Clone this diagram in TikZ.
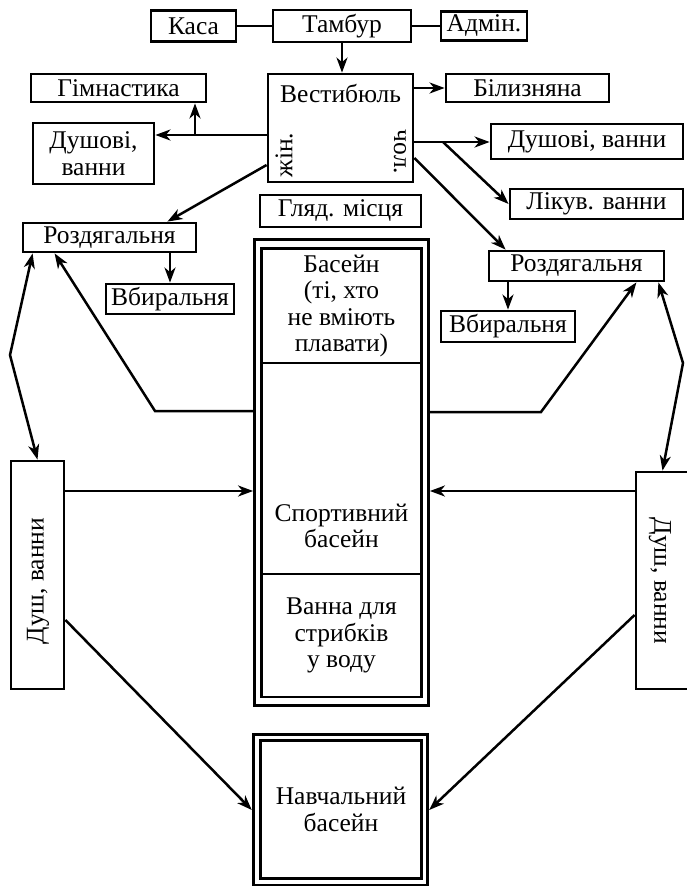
\documentclass[tikz,border=0pt]{standalone}
\usepackage{fontspec}
\setmainfont{Liberation Serif}
\usetikzlibrary{arrows.meta}

\begin{document}
\begin{tikzpicture}[
   x=1pt, y=-1pt,
   room/.style={draw, line width=2.8pt, inner sep=0pt, align=center,
      font=\fontsize{25.5}{26.5}\selectfont},
   txt/.style={inner sep=0pt, align=center, font=\fontsize{25.5}{26.5}\selectfont},
   link/.style={line width=2.5pt},
   arrow/.style={-{Stealth[length=15pt, width=11pt, inset=4.5pt]}, line width=2.5pt},
   dblarrow/.style={{Stealth[length=15pt, width=11pt, inset=4.5pt]}-{Stealth[length=15pt, width=11pt, inset=4.5pt]},
      line width=2.5pt}
]
\useasboundingbox (0,0) rectangle (686,886);

\node[room, minimum width=85, minimum height=31] (kasa) at (193.5,26) {Каса};
\node[room, minimum width=138, minimum height=32] (tambur) at (342,26) {Тамбур};
\node[room, minimum width=86, minimum height=29] (admin) at (484,26) {Адмін.};
\node[room, minimum width=145, minimum height=108] (vest) at (340.5,128) {};
\node[txt] (vesttxt) at (340.5,93) {Вестибюль};
\node[txt, rotate=90] (fem) at (284,155) {жін.};
\node[txt, rotate=-90] (male) at (400,152) {чол.};
\node[room, minimum width=163, minimum height=28] (linen) at (527.5,88) {Білизняна};
\node[room, minimum width=175, minimum height=28] (gym) at (118.5,88) {Гімнастика};
\node[room, minimum width=121, minimum height=61] (wshower) at (93.5,153.5) {Душові,\\ванни};
\node[room, minimum width=192, minimum height=35] (mshower) at (587,141.5) {Душові, ванни};
\node[room, minimum width=173, minimum height=30] (medbath) at (596.5,204) {Лікув. ванни};
\node[room, minimum width=161, minimum height=32] (seats) at (340.5,211) {Гляд. місця};
\node[room, minimum width=173, minimum height=29] (wchange) at (109.5,237.5) {Роздягальня};
\node[room, minimum width=128, minimum height=30] (wwc) at (170,299) {Вбиральня};
\node[room, minimum width=175, minimum height=30] (mchange) at (576.5,266) {Роздягальня};
\node[room, minimum width=134, minimum height=31] (mwc) at (508,326.5) {Вбиральня};

\node[room, minimum width=174, minimum height=466] (pool) at (341.5,472.5) {};
\node[room, minimum width=160, minimum height=114.5] (beginners) at (341.5,305.75)
   {Басейн\\(ті, хто\\не вміють\\плавати)};
\node[room, minimum width=160, minimum height=211] (sport) at (341.5,468.5) {};
\node[txt] (sporttxt) at (341.5,526) {Спортивний\\басейн};
\node[room, minimum width=160, minimum height=123] (jump) at (341.5,635.5)
   {Ванна для\\стрибків\\у воду};

\node[room, minimum width=53, minimum height=228] (wbath) at (37.5,575) {};
\node[txt, rotate=90] (wbathtxt) at (38,581) {Душ, ванни};
\node[room, minimum width=53, minimum height=217] (mbath) at (662.5,580.5) {};
\node[txt, rotate=-90] (mbathtxt) at (660,581) {Душ, ванни};

\node[room, minimum width=174.6, minimum height=151.6] (trainframe) at (340.5,810) {};
\node[room, minimum width=161.6, minimum height=138.6] (train) at (341,809.5)
   {Навчальний\\басейн};

\coordinate (wsplit) at (195,135);
\coordinate (msplit) at (443,142);
\coordinate (wbend) at (155,411);
\coordinate (mbend) at (541,412);
\coordinate (wkink) at (10,355);
\coordinate (mkink) at (683,363);

\draw[link] (kasa.east) -- (tambur.west);
\draw[link] (tambur.east) -- (admin.west);
\draw[arrow] (tambur.south) -- (tambur.south |- vest.north);
\draw[arrow] (vest.east |- linen.west) -- (linen.west);
\draw[arrow] (vest.west |- wsplit) -- (wshower.east |- wsplit);
\draw[arrow] (wsplit) -- (gym.south -| wsplit);
\draw[arrow] (vest.west |- 0,165) -- ([xshift=-30pt]wchange.north east);
\draw[arrow] (vest.east |- msplit) -- (mshower.west |- msplit);
\draw[arrow] (msplit) -- (medbath.west);
\draw[arrow] (vest.east |- 0,158) -- ([xshift=18pt]mchange.north west);
\draw[arrow] (wchange.south -| wwc.north) -- (wwc.north);
\draw[arrow] (mchange.south -| mwc.north) -- (mwc.north);
\draw[arrow] (pool.west |- wbend) -- (wbend) -- ([xshift=33pt]wchange.south west);
\draw[arrow] (pool.east |- mbend) -- (mbend) -- ([xshift=-29pt]mchange.south east);
\draw[dblarrow] ([xshift=11pt]wchange.south west) -- (wkink) -- (wbath.north);
\draw[dblarrow] ([xshift=-7pt]mchange.south east) -- (mkink) -- (mbath.north);
\draw[arrow] (wbath.east |- 0,491) -- (pool.west |- 0,491);
\draw[arrow] (mbath.west |- 0,491) -- (pool.east |- 0,491);
\draw[arrow] (wbath.east |- 0,620) -- (trainframe.west);
\draw[arrow] (mbath.west |- 0,615) -- (trainframe.east);
\end{tikzpicture}
\end{document}
